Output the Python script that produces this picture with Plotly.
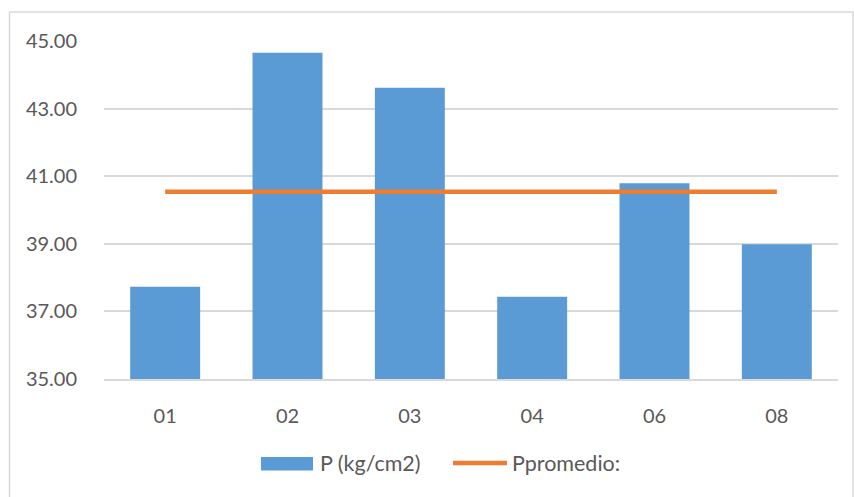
import plotly.graph_objects as go

categories = ["01", "02", "03", "04", "06", "08"]
p_values = [37.73, 44.65, 43.62, 37.43, 40.79, 38.99]
p_mean = [40.54] * len(categories)
y_ticks = [35, 37, 39, 41, 43, 45]
series_names = ["P (kg/cm2)", "Ppromedio:"]
bar_color = "#5B9BD5"
line_color = "#ED7D31"

fig = go.Figure()
fig.add_trace(go.Bar(x=categories, y=p_values, name=series_names[0],
                     marker=dict(color=bar_color, line=dict(width=0)), width=0.572))
fig.add_trace(go.Scatter(x=categories, y=p_mean, name=series_names[1], mode="lines",
                         line=dict(color=line_color, width=4.5)))

font_family = "Lato, Carlito, 'Open Sans', sans-serif"
W, H = 854, 497
L, R, T, B = 104, 16, 41, 118
pw, ph = W - L - R, H - T - B

def px(x):
    return (x - L) / pw

def py(y):
    return (H - B - y) / ph

fig.update_layout(
    width=W, height=H,
    margin=dict(l=L, r=R, t=T, b=B),
    paper_bgcolor="white", plot_bgcolor="white",
    font=dict(family=font_family, size=20, color="#595959"),
    showlegend=False,
    bargap=0.428,
)
fig.update_yaxes(range=[35, 45], tickvals=y_ticks, ticktext=[f"{v:.2f}" for v in y_ticks],
                 showgrid=True, gridcolor="#D9D9D9", gridwidth=1.5, zeroline=False,
                 ticks="outside", ticklen=22, tickcolor="rgba(0,0,0,0)", showline=False)
fig.update_xaxes(showgrid=False, showline=True, linecolor="#D9D9D9", linewidth=1.5,
                 ticks="outside", ticklen=18, tickcolor="rgba(0,0,0,0)")
# chart border
fig.add_shape(type="rect", xref="paper", yref="paper",
              x0=px(9.5), x1=px(853), y0=py(520), y1=py(12),
              line=dict(color="#D9D9D9", width=1.5), fillcolor="rgba(0,0,0,0)")
# custom legend
fig.add_shape(type="rect", xref="paper", yref="paper",
              x0=px(261), x1=px(313), y0=py(470.5), y1=py(457),
              line=dict(width=0), fillcolor=bar_color)
fig.add_annotation(xref="paper", yref="paper", x=px(318), y=py(463),
                   text=series_names[0], showarrow=False, xanchor="left", yanchor="middle",
                   font=dict(size=21.5, color="#595959", family=font_family))
fig.add_shape(type="line", xref="paper", yref="paper",
              x0=px(453), x1=px(507), y0=py(463), y1=py(463),
              line=dict(color=line_color, width=4.5))
fig.add_annotation(xref="paper", yref="paper", x=px(510), y=py(463),
                   text=series_names[1], showarrow=False, xanchor="left", yanchor="middle",
                   font=dict(size=21.5, color="#595959", family=font_family))
fig.write_html("out.html")
